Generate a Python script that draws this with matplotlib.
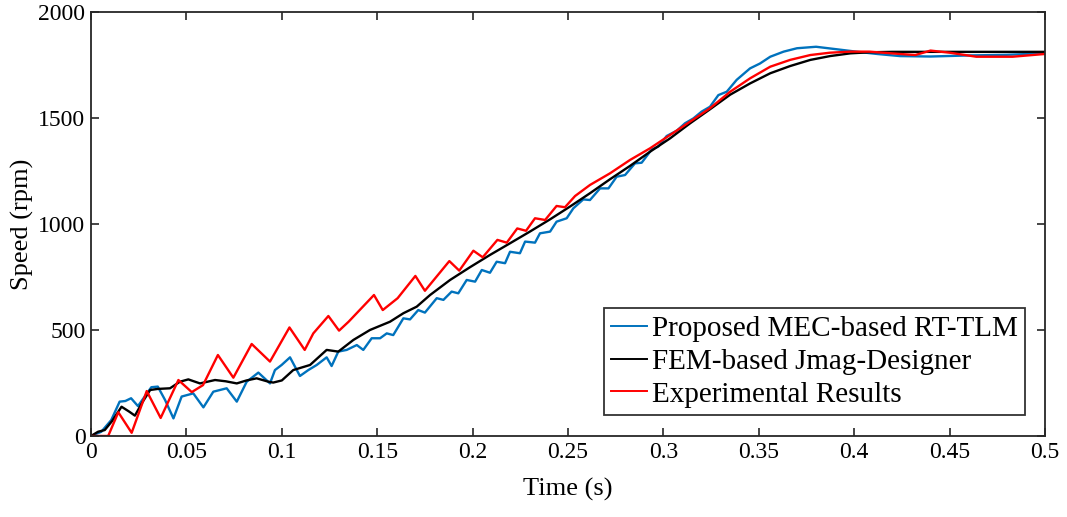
import matplotlib
matplotlib.use("Agg")
import matplotlib.pyplot as plt

plt.rcParams['font.family'] = ['Liberation Serif', 'DejaVu Serif']
plt.rcParams['mathtext.fontset'] = 'stix'

# ---- data ----
blue_t = [0, 0.0054, 0.0106, 0.015, 0.018, 0.021, 0.0246, 0.0316, 0.035, 0.0388,
          0.0432, 0.0475, 0.0536, 0.0589, 0.0641, 0.0711, 0.0764, 0.0816, 0.0877, 0.0938,
          0.0964, 0.0999, 0.1043, 0.1095, 0.1139, 0.1183, 0.1235, 0.1261, 0.1296, 0.134,
          0.1393, 0.1427, 0.1471, 0.1515, 0.155, 0.1584, 0.1637, 0.1672, 0.1715, 0.175,
          0.1812, 0.1847, 0.189, 0.1925, 0.1969, 0.2013, 0.2048, 0.2091, 0.2126, 0.217,
          0.2196, 0.2248, 0.2275, 0.2327, 0.2353, 0.2406, 0.244, 0.2493, 0.2528, 0.258,
          0.2615, 0.2668, 0.2712, 0.2755, 0.2799, 0.2851, 0.2886, 0.2939, 0.2973, 0.3017,
          0.307, 0.3113, 0.3157, 0.32, 0.3244, 0.3288, 0.3332, 0.3384, 0.3454, 0.3506,
          0.356, 0.363, 0.370, 0.380, 0.391, 0.401, 0.412, 0.424, 0.44, 0.46,
          0.48, 0.5]
blue_y = [0, 20, 75, 162, 165, 178, 141, 230, 233, 170,
          83, 186, 201, 135, 209, 225, 162, 256, 299, 248,
          311, 335, 371, 283, 311, 335, 371, 330, 398, 406,
          429, 406, 461, 461, 484, 476, 555, 550, 594, 582,
          650, 642, 681, 673, 736, 728, 783, 770, 822, 815,
          869, 862, 917, 912, 956, 964, 1011, 1027, 1074, 1116,
          1113, 1168, 1168, 1223, 1231, 1286, 1289, 1352, 1365, 1415,
          1440, 1475, 1498, 1530, 1553, 1608, 1624, 1680, 1734, 1757,
          1789, 1813, 1829, 1836, 1824, 1813, 1802, 1792, 1790, 1795,
          1798, 1805]

black_t = [0, 0.0037, 0.0072, 0.011, 0.016, 0.020, 0.023, 0.027, 0.031, 0.035,
           0.0414, 0.0466, 0.051, 0.0571, 0.065, 0.0706, 0.0764, 0.0815, 0.0868, 0.093,
           0.0955, 0.1, 0.106, 0.1148, 0.1235, 0.1296, 0.1375, 0.1462, 0.1567, 0.1637,
           0.1707, 0.1777, 0.1882, 0.1986, 0.2091, 0.2196, 0.230, 0.2406, 0.251, 0.2615,
           0.272, 0.2825, 0.293, 0.3035, 0.314, 0.3244, 0.335, 0.3454, 0.356, 0.3664,
           0.377, 0.3873, 0.398, 0.408, 0.42, 0.45, 0.5]
black_y = [0, 20, 28, 70, 138, 115, 96, 160, 217, 222,
           225, 256, 267, 248, 264, 258, 248, 262, 272, 256,
           252, 262, 311, 335, 406, 398, 453, 500, 539, 579,
           610, 665, 736, 796, 854, 909, 964, 1022, 1082, 1145,
           1211, 1274, 1341, 1404, 1475, 1541, 1610, 1663, 1711, 1745,
           1774, 1792, 1805, 1810, 1812, 1812, 1812]

red_t = [0, 0.009, 0.0143, 0.0213, 0.0292, 0.0365, 0.0458, 0.0528, 0.0587, 0.0665,
         0.0746, 0.0842, 0.0938, 0.104, 0.112, 0.1165, 0.1244, 0.130, 0.135, 0.1483,
         0.1529, 0.1607, 0.170, 0.175, 0.1878, 0.193, 0.2004, 0.2053, 0.213, 0.2179,
         0.2234, 0.228, 0.2327, 0.238, 0.244, 0.2484, 0.2537, 0.2615, 0.272, 0.2825,
         0.293, 0.3035, 0.314, 0.3244, 0.335, 0.3454, 0.356, 0.3664, 0.377, 0.3873,
         0.398, 0.408, 0.424, 0.432, 0.44, 0.45, 0.464, 0.483, 0.5]
red_y = [0, 0, 112, 15, 212, 85, 264, 207, 240, 382,
         275, 434, 351, 512, 406, 484, 566, 497, 539, 665,
         594, 650, 755, 685, 825, 780, 874, 843, 925, 912,
         979, 968, 1027, 1019, 1085, 1079, 1132, 1184, 1239, 1302,
         1357, 1420, 1483, 1546, 1624, 1687, 1742, 1774, 1797, 1808,
         1813, 1813, 1802, 1797, 1818, 1808, 1789, 1789, 1802]

labels = ["Proposed MEC-based RT-TLM", "FEM-based Jmag-Designer", "Experimental Results"]
x_ticks = [0, 0.05, 0.1, 0.15, 0.2, 0.25, 0.3, 0.35, 0.4, 0.45, 0.5]
x_ticklabels = ["0", "0.05", "0.1", "0.15", "0.2", "0.25", "0.3", "0.35", "0.4", "0.45", "0.5"]
y_ticks = [0, 500, 1000, 1500, 2000]

# ---- figure ----
fig = plt.figure(figsize=(10.67, 5.17), dpi=100)
ax = fig.add_axes([0.0853, 0.1567, 0.8941, 0.8201])

ax.plot(blue_t, blue_y, color='#0072BD', lw=1.7, label=labels[0])
ax.plot(black_t, black_y, color='black', lw=1.7, label=labels[1])
ax.plot(red_t, red_y, color='#FF0000', lw=1.7, label=labels[2])

ax.set_xlim(0, 0.5)
ax.set_ylim(0, 2000)
ax.set_xticks(x_ticks)
ax.set_xticklabels(x_ticklabels)
ax.set_yticks(y_ticks)
ax.tick_params(direction='in', top=True, right=True, length=6, width=1.2,
               labelsize=17, colors='#262626', labelcolor='black', pad=4)
for s in ax.spines.values():
    s.set_linewidth(1.3)
    s.set_color('#262626')

ax.set_xlabel("Time (s)", fontsize=19, labelpad=11)
ax.set_ylabel("Speed (rpm)", fontsize=19, labelpad=3)

leg = ax.legend(loc='lower right', bbox_to_anchor=(0.979, 0.0495), borderaxespad=0,
                fontsize=21, frameon=True, fancybox=False, handlelength=1.25,
                handletextpad=0.15, borderpad=0.25, labelspacing=0.22)
leg.get_frame().set_edgecolor('black')
leg.get_frame().set_linewidth(1.3)
for h in leg.get_lines():
    h.set_linewidth(1.4)

fig.savefig("out.png", dpi=100)
